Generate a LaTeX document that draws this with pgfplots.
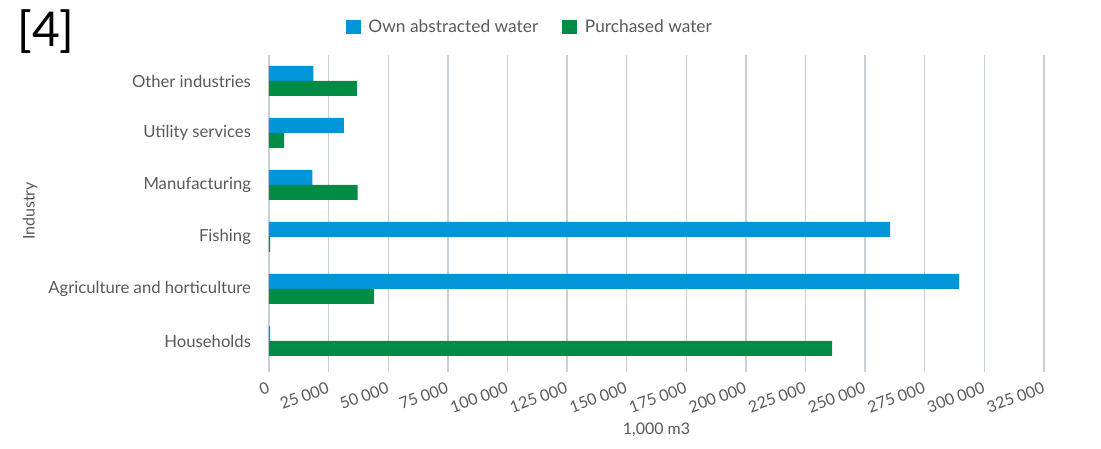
\documentclass[border=0pt]{standalone}
\usepackage{pgfplots}
\pgfplotsset{compat=1.18}
\usepackage{fontspec}
\setmainfont{Lato}
\definecolor{cblue}{RGB}{0,150,215}
\definecolor{cgreen}{RGB}{0,140,69}
\definecolor{tgray}{RGB}{89,89,89}
\definecolor{gridc}{RGB}{200,208,215}
\begin{document}
\begin{tikzpicture}
\useasboundingbox (-201.75pt,-61.5pt) rectangle (624pt,275.25pt);
\begin{axis}[
  scale only axis, width=581.25pt, height=234pt, at={(0pt,0pt)}, anchor=south west,
  xbar, bar width=11.25pt,
  xmin=0, xmax=325000, ymin=-0.5, ymax=5.5,
  ytick={0,1,2,3,4,5},
  yticklabels={Households,Agriculture and horticulture,Fishing,Manufacturing,Utility services,Other industries},
  xtick={0,25000,50000,75000,100000,125000,150000,175000,200000,225000,250000,275000,300000,325000},
  xticklabels={0,25 000,50 000,75 000,100 000,125 000,150 000,175 000,200 000,225 000,250 000,275 000,300 000,325 000},
  scaled x ticks=false,
  axis line style={draw=none},
  xmajorgrids, grid style={gridc, line width=1pt},
  xtick style={gridc, line width=1pt}, tick align=outside, major tick length=4pt,
  xtick pos=bottom, ytick style={draw=none},
  yticklabel style={font=\fontsize{12.5}{14}\selectfont, text=tgray, xshift=-6pt},
  xticklabel style={font=\fontsize{12}{14}\selectfont, text=tgray, yshift=-10pt, xshift=3pt, rotate=20, anchor=east},
  xlabel={1,000 m3}, ylabel={Industry},
  every axis x label/.style={at={(rel axis cs:0.5,0)}, yshift=-47.25pt, anchor=center, font=\fontsize{12}{14}\selectfont, text=tgray},
  every axis y label/.style={at={(rel axis cs:0,0.5)}, xshift=-179.25pt, rotate=90, anchor=center, font=\fontsize{12}{14}\selectfont, text=tgray},
  legend columns=2,
  legend style={draw=none, fill=none, at={(rel axis cs:0.337,1)}, anchor=center, yshift=21pt,
    font=\fontsize{13}{15}\selectfont, text=tgray, /tikz/every even column/.append style={column sep=16pt}},
  legend image code/.code={\fill[#1] (0pt,-5.6pt) rectangle (11.25pt,5.6pt); \path (0pt,0pt) -- (15pt,0pt);},
]
\addplot[fill=cblue, draw=none, bar shift=5.625pt] coordinates {
 (500,0) (289400,1) (260500,2) (18200,3) (31400,4) (18600,5)};
\addplot[fill=cgreen, draw=none, bar shift=-5.625pt] coordinates {
 (236200,0) (44100,1) (500,2) (37200,3) (6300,4) (36800,5)};
\legend{Own abstracted water, Purchased water}
\end{axis}
\node[font=\fontsize{36}{36}\selectfont, text=black] at (-167.25pt,251.25pt) {[4]};
\end{tikzpicture}
\end{document}
